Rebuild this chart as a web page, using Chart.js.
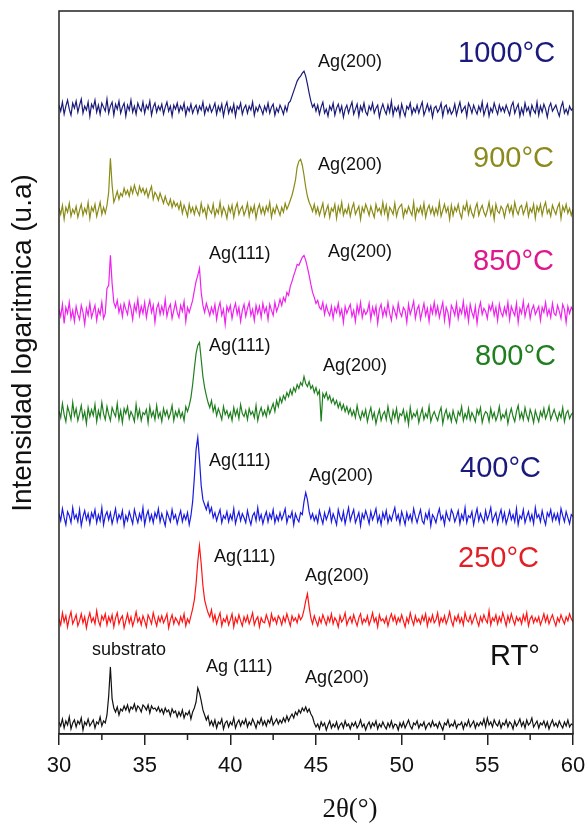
<!DOCTYPE html>
<html>
<head>
<meta charset="utf-8">
<title>DRX Ag</title>
<script src="https://cdn.jsdelivr.net/npm/chart.js@4.4.1/dist/chart.umd.min.js"></script>
<style>
  html, body { margin: 0; padding: 0; background: #fff; }
  #wrap { width: 585px; height: 825px; position: relative; }
</style>
</head>
<body>
<div id="wrap"><canvas id="xrd"></canvas></div>
<script>
// eje x: 2theta (grados), paso 0.1
const twoTheta = [
  30.0,30.1,30.2,30.3,30.4,30.5,30.6,30.7,30.8,30.9,
  31.0,31.1,31.2,31.3,31.4,31.5,31.6,31.7,31.8,31.9,
  32.0,32.1,32.2,32.3,32.4,32.5,32.6,32.7,32.8,32.9,
  33.0,33.1,33.2,33.3,33.4,33.5,33.6,33.7,33.8,33.9,
  34.0,34.1,34.2,34.3,34.4,34.5,34.6,34.7,34.8,34.9,
  35.0,35.1,35.2,35.3,35.4,35.5,35.6,35.7,35.8,35.9,
  36.0,36.1,36.2,36.3,36.4,36.5,36.6,36.7,36.8,36.9,
  37.0,37.1,37.2,37.3,37.4,37.5,37.6,37.7,37.8,37.9,
  38.0,38.1,38.2,38.3,38.4,38.5,38.6,38.7,38.8,38.9,
  39.0,39.1,39.2,39.3,39.4,39.5,39.6,39.7,39.8,39.9,
  40.0,40.1,40.2,40.3,40.4,40.5,40.6,40.7,40.8,40.9,
  41.0,41.1,41.2,41.3,41.4,41.5,41.6,41.7,41.8,41.9,
  42.0,42.1,42.2,42.3,42.4,42.5,42.6,42.7,42.8,42.9,
  43.0,43.1,43.2,43.3,43.4,43.5,43.6,43.7,43.8,43.9,
  44.0,44.1,44.2,44.3,44.4,44.5,44.6,44.7,44.8,44.9,
  45.0,45.1,45.2,45.3,45.4,45.5,45.6,45.7,45.8,45.9,
  46.0,46.1,46.2,46.3,46.4,46.5,46.6,46.7,46.8,46.9,
  47.0,47.1,47.2,47.3,47.4,47.5,47.6,47.7,47.8,47.9,
  48.0,48.1,48.2,48.3,48.4,48.5,48.6,48.7,48.8,48.9,
  49.0,49.1,49.2,49.3,49.4,49.5,49.6,49.7,49.8,49.9,
  50.0,50.1,50.2,50.3,50.4,50.5,50.6,50.7,50.8,50.9,
  51.0,51.1,51.2,51.3,51.4,51.5,51.6,51.7,51.8,51.9,
  52.0,52.1,52.2,52.3,52.4,52.5,52.6,52.7,52.8,52.9,
  53.0,53.1,53.2,53.3,53.4,53.5,53.6,53.7,53.8,53.9,
  54.0,54.1,54.2,54.3,54.4,54.5,54.6,54.7,54.8,54.9,
  55.0,55.1,55.2,55.3,55.4,55.5,55.6,55.7,55.8,55.9,
  56.0,56.1,56.2,56.3,56.4,56.5,56.6,56.7,56.8,56.9,
  57.0,57.1,57.2,57.3,57.4,57.5,57.6,57.7,57.8,57.9,
  58.0,58.1,58.2,58.3,58.4,58.5,58.6,58.7,58.8,58.9,
  59.0,59.1,59.2,59.3,59.4,59.5,59.6,59.7,59.8,59.9,
  60.0
];

// intensidades (ya desplazadas, u.a.)
const rt = [
  12,8,15,6,13,9,17,5,11,14, 7,13,10,16,4,12,9,15,8,11, 14,6,12,10,17,8,13,11,19,38,
  67,35,26,22,27,19,25,23,28,24, 29,22,27,25,30,23,28,26,22,29, 27,24,29,21,28,25,26,23,27,22,
  25,20,26,22,24,18,25,21,23,17, 22,18,24,16,21,19,23,15,22,26, 32,46,41,33,24,19,14,18,9,13,
  8,14,6,12,10,15,5,11,13,7, 12,9,16,6,11,14,8,13,10,15, 7,12,9,15,11,6,13,10,16,9,
  13,8,14,11,17,9,12,15,10,14, 11,16,12,18,13,17,20,16,22,19, 24,21,26,23,27,22,25,20,17,11,
  7,10,5,12,8,11,4,9,13,6, 10,7,12,5,9,11,6,13,8,10, 5,11,8,12,6,9,14,7,10,4,
  9,12,6,11,8,13,5,10,7,12, 8,5,11,7,13,6,10,9,4,11, 7,12,6,10,14,8,5,11,9,13,
  6,10,8,12,5,9,11,7,13,8, 10,6,12,8,4,11,9,14,7,10, 8,13,6,10,9,12,5,11,8,14,
  7,10,13,6,11,8,12,9,15,7, 16,9,12,7,14,10,8,13,6,11, 9,14,7,12,10,5,13,8,11,15,
  8,12,6,14,9,11,16,7,10,13, 6,11,9,13,7,12,5,10,14,8, 11,7,13,9,6,12,8,14,7,10,
  9
];
const t250 = [
  115,109,121,112,118,107,116,122,110,114, 119,108,113,120,111,117,106,115,121,112, 116,110,123,113,108,118,114,120,109,117,
  112,119,107,116,121,110,115,118,106,113, 120,111,117,108,114,122,112,116,109,118, 113,107,119,115,110,121,114,108,117,112,
  118,111,115,120,106,114,119,110,116,113, 109,117,112,120,108,115,111,118,125,134, 150,172,188,170,148,134,127,121,117,124,
  113,119,110,116,121,108,115,112,118,109, 114,120,107,116,111,119,113,108,117,112, 118,110,115,121,109,114,117,107,116,112,
  111,119,114,108,120,113,116,110,118,115, 109,117,112,120,114,108,118,113,116,111, 119,114,117,124,133,140,127,116,110,118,
  113,108,116,111,119,114,109,117,112,120, 110,116,113,107,118,112,115,121,109,114, 117,111,119,113,108,116,120,110,115,112,
  118,109,114,121,112,116,107,119,113,115, 111,117,108,115,120,113,118,110,116,112, 119,113,107,116,111,121,114,109,118,112,
  115,110,118,113,120,108,116,112,119,111, 114,121,109,116,112,118,110,115,122,113, 108,117,113,119,111,116,109,121,114,112,
  118,110,115,120,113,108,117,112,119,114, 111,123,109,116,113,119,110,117,112,121, 115,108,118,112,120,114,109,117,113,116,
  110,119,113,121,108,115,118,111,116,112, 117,109,114,120,112,118,110,115,119,113, 108,116,112,119,114,110,117,113,120,115,
  112
];
const t400 = [
  220,213,225,216,209,222,218,211,226,215, 219,212,224,208,217,223,214,220,210,221, 216,224,211,219,213,226,209,218,222,214,
  221,210,217,225,212,219,215,223,208,218, 213,222,216,210,224,217,211,220,214,226, 209,218,223,213,219,211,221,216,225,212,
  220,214,208,222,217,212,224,215,219,210, 217,223,212,219,214,221,209,218,232,256, 284,296,274,248,234,229,224,231,221,226,
  216,221,213,219,224,211,218,215,222,212, 219,214,225,210,217,222,213,220,216,211, 223,215,209,218,221,213,226,214,219,210,
  217,222,212,220,215,224,211,218,213,221, 214,219,225,211,218,216,222,209,220,215, 212,221,219,232,241,234,222,215,220,213,
  218,211,223,216,210,221,214,219,225,212, 220,215,209,224,217,213,222,210,218,226, 213,219,224,211,216,221,208,220,215,223,
  217,210,222,214,219,225,212,218,209,221, 215,223,211,218,213,220,226,214,219,210, 222,216,209,221,214,219,212,225,217,211,
  218,224,213,210,220,215,223,208,219,216, 211,219,225,214,218,209,222,216,213,224, 220,212,217,223,210,219,214,226,211,218,
  216,222,209,218,225,213,220,215,211,223, 214,219,226,212,217,221,210,218,224,213, 221,210,216,223,214,219,212,225,209,218,
  215,224,211,217,222,213,219,210,226,216, 219,212,223,215,209,221,217,224,213,220, 214,220,211,225,218,212,222,216,210,219,
  217
];
const t800 = [
  323,316,330,319,312,327,321,314,331,318, 325,313,320,328,315,322,310,326,317,324, 318,329,312,323,316,331,320,314,327,319,
  313,326,321,317,330,314,323,311,325,320, 327,315,322,318,312,329,316,324,313,321, 319,324,311,327,317,322,314,328,316,321,
  312,325,318,323,315,320,328,313,322,317, 324,316,321,313,327,322,328,336,349,365, 380,388,391,374,357,346,338,331,326,333,
  322,328,318,325,320,314,327,319,323,316, 321,313,326,318,324,315,329,320,317,323, 314,325,319,322,316,328,313,321,326,318,
  323,317,327,320,325,330,322,333,327,336, 331,338,334,341,337,344,339,346,342,349, 345,351,348,357,350,347,352,345,348,341,
  346,339,343,312,340,336,341,334,338,331, 335,329,333,326,331,324,329,322,327,320, 325,318,323,316,328,319,314,322,317,324,
  312,320,326,315,321,310,318,324,313,319, 322,314,327,317,311,323,316,325,312,320, 318,324,313,321,309,326,315,320,317,323,
  311,319,325,314,320,316,327,312,318,322, 317,313,321,326,310,319,324,315,320,312, 323,316,311,322,318,327,313,320,315,325,
  314,321,317,312,324,319,326,311,318,322, 320,312,325,316,321,313,318,327,314,319, 316,323,310,319,325,317,312,322,328,315,
  321,314,326,318,313,324,319,311,323,317, 312,322,317,325,315,320,327,314,319,324, 318,313,321,316,326,312,320,323,315,319,
  321
];
const t850 = [
  424,417,429,410,426,420,431,415,423,412, 427,419,414,428,421,409,425,418,430,416, 422,428,413,424,419,431,415,420,445,448,
  478,450,431,426,433,421,428,417,430,424, 419,432,425,414,429,422,434,418,427,420, 431,416,426,433,421,428,411,425,430,419,
  427,420,434,417,425,429,415,423,431,421, 416,428,422,432,412,426,421,427,433,443, 452,458,465,441,428,421,430,424,418,426,
  420,429,414,425,431,418,424,409,427,422, 428,415,424,430,419,426,412,423,429,417, 425,431,418,424,413,428,420,427,416,430,
  421,426,414,429,423,418,431,422,427,434, 428,436,432,441,438,447,452,458,463,469, 468,472,476,478,473,466,458,449,441,436,
  430,433,426,424,431,419,428,422,418,427, 415,426,421,430,418,424,411,427,420,425, 429,417,423,412,428,420,431,416,424,419,
  422,430,414,426,419,427,410,424,429,417, 425,418,431,420,413,427,422,416,430,421, 417,426,423,411,429,419,425,432,415,424,
  428,414,422,430,418,425,412,427,420,431, 419,427,416,424,431,413,426,421,409,428, 424,418,430,415,425,420,432,417,426,412,
  429,421,416,427,410,424,431,419,425,422, 415,428,423,430,418,426,413,429,421,417, 426,419,431,414,427,422,418,430,411,425,
  420,432,417,425,429,415,424,428,419,423, 427,413,426,421,431,418,424,416,430,420, 418,428,422,415,429,424,411,427,420,426,
  423
];
const t900 = [
  525,519,528,514,526,521,530,517,524,520, 527,516,523,529,518,525,520,531,515,526, 522,529,517,524,531,519,526,520,528,541,
  575,548,531,536,542,534,540,537,545,539, 543,537,546,540,548,542,538,547,541,545, 539,544,536,542,547,534,541,538,533,540,
  535,530,537,531,528,534,526,532,527,530, 524,531,520,528,523,517,529,521,526,519, 527,522,518,530,521,525,516,528,523,520,
  529,517,524,520,531,518,526,522,515,527, 521,528,516,525,530,519,524,527,518,523, 530,517,526,521,528,515,524,529,520,526,
  519,527,522,531,516,525,520,528,523,518, 526,521,530,524,528,533,538,545,553,566, 572,574,568,558,546,537,531,527,522,529,
  520,526,518,524,530,517,523,528,516,525, 522,529,515,527,521,531,518,524,520,528, 517,525,530,519,523,527,514,526,521,529,
  524,518,527,521,516,529,522,525,519,531, 520,528,515,526,523,519,530,517,524,527, 529,516,524,520,527,522,518,531,515,525,
  521,527,519,530,516,524,528,520,526,518, 525,519,531,517,523,529,521,526,514,528, 518,526,522,529,520,515,527,523,531,519,
  527,520,516,525,530,518,524,528,521,517, 523,531,519,526,514,529,522,520,527,524, 516,525,529,521,527,518,531,523,519,526,
  528,519,524,530,517,525,521,529,515,527, 522,529,518,526,531,520,524,517,528,523, 519,526,530,515,527,522,529,520,525,518,
  524
];
const t1000 = [
  628,622,631,619,627,633,624,618,630,625, 632,621,628,634,620,627,623,631,617,629, 625,633,621,628,619,630,626,622,634,620,
  627,631,618,629,624,632,620,626,630,617, 628,623,633,621,627,619,630,625,622,631, 620,628,624,632,618,626,630,621,627,623,
  629,619,626,631,622,627,617,628,624,630, 621,627,623,630,618,626,622,629,620,625, 628,620,627,623,631,619,626,622,628,621,
  625,630,619,627,622,629,617,626,631,620, 626,621,629,617,627,624,630,619,625,628, 620,627,623,631,618,626,622,628,624,619,
  627,622,630,620,626,629,618,625,621,628, 624,619,627,622,630,632,637,642,647,652, 655,657,660,662,657,649,640,632,626,629,
  622,628,619,626,631,620,624,617,627,623, 630,618,625,629,621,627,616,624,628,620, 626,631,619,624,629,617,627,622,630,621,
  618,627,623,630,620,625,628,616,624,629, 623,619,628,621,632,618,626,622,627,617, 629,622,617,627,624,630,619,625,621,628,
  620,626,631,618,623,629,622,627,616,625, 627,621,624,630,617,626,628,620,625,619, 622,629,618,625,631,621,624,627,617,630,
  626,620,628,623,619,627,622,631,618,624, 629,617,625,621,630,624,619,628,622,626, 621,628,623,618,627,631,620,625,629,617,
  625,619,630,622,626,618,628,623,620,631, 618,627,621,629,624,616,626,630,622,625, 628,622,617,626,631,620,624,619,627,623,
  625
];

// nombres de las muestras, colores de linea y de etiqueta
const samples = ['RT°', '250°C', '400°C', '800°C', '850°C', '900°C', '1000°C'];
const seriesList = [rt, t250, t400, t800, t850, t900, t1000];
const lineColors = ['#111111', '#ff1414', '#1a1ae0', '#1f7f1f', '#ee22ee', '#8a8a16', '#1a1a78'];
const labelColors = ['#111111', '#e31e24', '#1a1a7e', '#1f7f1f', '#e0168c', '#8c8a1c', '#1a1a7e'];
// posicion de la etiqueta de temperatura (2theta, intensidad)
const sampleLabelX = [55.16, 53.29, 53.41, 54.28, 54.17, 54.17, 53.29];
const sampleLabelY = [77, 175, 265, 376, 471, 574, 679];

// etiquetas de picos
const peakText = ['substrato', 'Ag (111)', 'Ag(200)', 'Ag(111)', 'Ag(200)', 'Ag(111)', 'Ag(200)',
                  'Ag(111)', 'Ag(200)', 'Ag(111)', 'Ag(200)', 'Ag(200)', 'Ag(200)'];
const peakX = [31.93, 38.58, 44.36, 39.05, 44.36, 38.76, 44.59, 38.76, 45.41, 38.76, 45.70, 45.12, 45.12];
const peakY = [84, 67, 56, 177, 158, 273, 258, 387, 367, 479, 481, 568, 671];

const xTicks = [30, 35, 40, 45, 50, 55, 60];
const minorTicks = [32.5, 37.5, 42.5, 47.5, 52.5, 57.5];

Chart.defaults.font.family = "'Liberation Sans', Arial, sans-serif";

// dibuja marco, ticks menores, textos y titulos de ejes
const overlay = {
    id: 'overlay',
    afterDraw(chart) {
        const ctx = chart.ctx;
        const a = chart.chartArea;
        const x = chart.scales.x;
        const y = chart.scales.y;
        ctx.save();
        ctx.strokeStyle = '#222';
        ctx.lineWidth = 1.5;
        ctx.strokeRect(a.left, a.top, a.right - a.left, a.bottom - a.top);
        minorTicks.forEach(v => {
            const px = x.getPixelForValue(v);
            ctx.beginPath();
            ctx.moveTo(px, a.bottom);
            ctx.lineTo(px, a.bottom + 6);
            ctx.stroke();
        });

        ctx.textAlign = 'left';
        ctx.textBaseline = 'middle';
        ctx.fillStyle = '#111';
        ctx.font = "18px 'Liberation Sans', Arial";
        peakText.forEach((t, i) => {
            ctx.fillText(t, x.getPixelForValue(peakX[i]), y.getPixelForValue(peakY[i]));
        });

        ctx.font = "29px 'Liberation Sans', Arial";
        samples.forEach((s, i) => {
            ctx.fillStyle = labelColors[i];
            ctx.fillText(s, x.getPixelForValue(sampleLabelX[i]), y.getPixelForValue(sampleLabelY[i]));
        });

        // titulos
        ctx.fillStyle = '#111';
        ctx.textAlign = 'center';
        ctx.font = "27px 'Liberation Serif', 'Times New Roman', serif";
        ctx.fillText('2θ(°)', 350, 810);

        ctx.translate(23, 343);
        ctx.rotate(-Math.PI / 2);
        ctx.font = "28px 'Liberation Sans', Arial";
        ctx.fillText('Intensidad logaritmica (u.a)', 0, 0);
        ctx.restore();
    }
};

const datasets = seriesList.map((serie, i) => ({
    label: samples[i],
    data: serie.map((v, k) => ({ x: twoTheta[k], y: v })),
    borderColor: lineColors[i],
    borderWidth: 1.2,
    pointRadius: 0,
    tension: 0,
    fill: false
}));

const chart = new Chart(document.getElementById('xrd'), {
    type: 'line',
    data: { datasets: datasets },
    options: {
        responsive: true,
        maintainAspectRatio: false,
        animation: false,
        layout: { padding: { left: 59, right: 12, top: 11, bottom: 0 } },
        plugins: { legend: { display: false }, tooltip: { enabled: false } },
        scales: {
            x: {
                type: 'linear',
                min: 30,
                max: 60,
                afterBuildTicks: s => { s.ticks = xTicks.map(v => ({ value: v })); },
                afterFit: s => { s.height = 91; s.paddingLeft = 0; s.paddingRight = 0; },
                ticks: { color: '#111', font: { size: 22 }, padding: 8, maxRotation: 0 },
                grid: { drawOnChartArea: false, drawTicks: true, tickLength: 11, color: '#222', lineWidth: 1.5 },
                border: { display: true, color: '#222', width: 1.5 }
            },
            y: { display: false, min: 0, max: 722 }
        }
    },
    plugins: [overlay]
});
</script>
</body>
</html>
